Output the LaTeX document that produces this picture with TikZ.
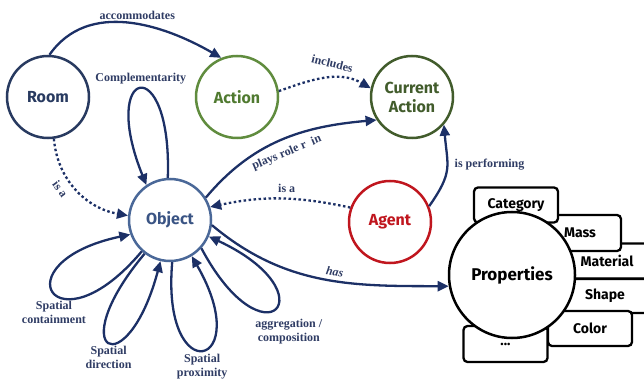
\documentclass[tikz,border=0pt]{standalone}
\usepackage{fontspec}
\setmainfont{Liberation Serif}
\setsansfont{Fira Sans}
\usetikzlibrary{arrows.meta}
\definecolor{navy}{RGB}{28,48,102}
\definecolor{lblblue}{RGB}{47,60,100}
\definecolor{roomblue}{RGB}{40,58,96}
\definecolor{objblue}{RGB}{74,104,152}
\definecolor{objtext}{RGB}{58,84,132}
\definecolor{actgreen}{RGB}{96,140,62}
\definecolor{acttext}{RGB}{80,122,48}
\definecolor{curgreen}{RGB}{66,92,44}
\definecolor{agentred}{RGB}{192,22,30}

\begin{document}
\begin{tikzpicture}[x=1pt,y=1pt,
		concept/.style={circle,draw,line width=2.5pt,fill=white,minimum size=82pt,inner sep=0pt,align=center,font=\sffamily\bfseries\fontsize{16}{19}\selectfont},
		rel/.style={draw=navy,line width=2.3pt,-{Triangle[length=11pt,width=10pt]}},
		isa/.style={rel,dash pattern=on 2.5pt off 2.5pt},
		lbl/.style={font=\bfseries\fontsize{12}{14}\selectfont,text=lblblue,align=center},
		propbox/.style={draw,line width=2.3pt,rounded corners=4pt,fill=white,minimum width=84pt,minimum height=35pt,inner sep=0pt,font=\sffamily\bfseries\fontsize{14}{16}\selectfont}]
		\useasboundingbox (0,0) rectangle (644,383);
		\node[concept,draw=roomblue,text=roomblue] (room) at (48,286) {Room};
		\node[concept,draw=actgreen,text=acttext] (action) at (237,286) {Action};
		\node[concept,draw=curgreen,text=curgreen] (curaction) at (412,286) {Current\\Action};
		\node[concept,draw=objblue,text=objtext] (object) at (170,163) {Object};
		\node[concept,draw=agentred,text=agentred] (agent) at (390,161) {Agent};
		\node[propbox,minimum width=94pt] (material) at (607,122) {Material};
		\node[propbox,minimum width=90pt,minimum height=34pt] (shape) at (605,87) {Shape};
		\node[propbox,minimum width=82pt,minimum height=36pt] (mass) at (580,150) {Mass};
		\node[propbox] (color) at (590,54.5) {Color};
		\node[propbox] (category) at (516,178) {Category};
		\node[propbox,minimum height=36pt] (more) at (505.5,39) {...};
		\node[concept,draw=black,text=black,minimum size=126pt,font=\sffamily\bfseries\fontsize{17}{19}\selectfont] (props) at (512,108) {Properties};
		\draw[rel] (room.88) to[out=55,in=150] node[lbl,above,pos=0.55] {accommodates} (action.112);
		\draw[isa] (action.8) to[out=20,in=150] node[lbl,above=6pt,rotate=-14,pos=0.55] {includes} (curaction.168);
		\draw[rel] (object.32) to[out=50,in=185] node[lbl,below=4pt,sloped,pos=0.5] {plays role r~~in} (curaction.213);
		\draw[isa] (agent.160) to[out=168,in=12] node[lbl,above=2pt,pos=0.45] {is a} (object.18);
		\draw[rel] (agent.22) to[out=55,in=275,looseness=1.3] node[lbl,right=3pt,pos=0.55] {is performing} (curaction.319);
		\draw[isa] (room.278) to[out=275,in=170] node[lbl,below=3pt,sloped,pos=0.4] {is a} (object.174);
		\draw[rel] (object.353) to[out=-40,in=180] node[lbl,above,sloped,pos=0.55] {\itshape has} (props.190);
		\draw[rel] (object.93) to[out=88,in=112,distance=128] node[lbl,above] {Complementarity} (object.124);
		\draw[rel] (object.228) to[out=230,in=192,distance=135] node[lbl,below=4pt] {Spatial\\containment} (object.200);
		\draw[rel] (object.233) to[out=230,in=255,distance=130] node[lbl,below] {Spatial\\direction} (object.257);
		\draw[rel] (object.273) to[out=265,in=300,distance=130] node[lbl,below] {Spatial\\proximity} (object.301);
		\draw[rel] (object.318) to[out=298,in=335,distance=135] node[lbl,below=6pt,xshift=14pt] {aggregation /\\composition} (object.337);
	\end{tikzpicture}
\end{document}
